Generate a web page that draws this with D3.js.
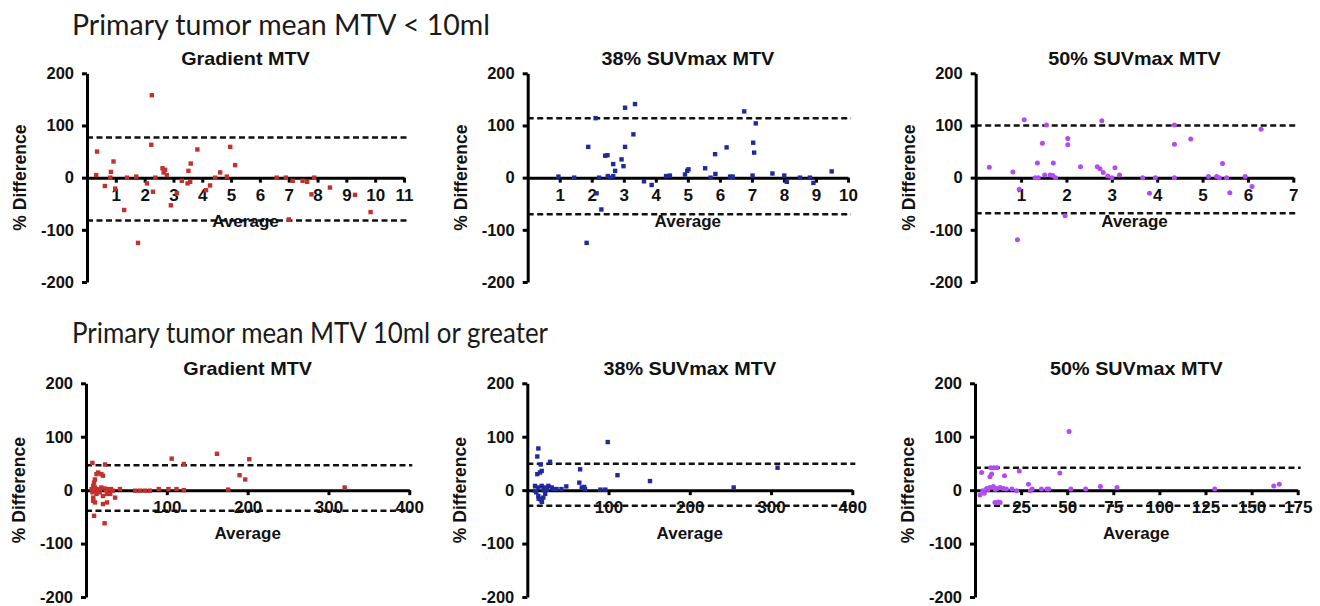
<!DOCTYPE html>
<html>
<head>
<meta charset="utf-8">
<script src="https://cdn.jsdelivr.net/npm/d3@7"></script>
<style>
  body { margin: 0; background: #fff; }
  svg text { font-family: "Liberation Sans", Arial, sans-serif; }
</style>
</head>
<body>
<svg></svg>
<script>
// row headings and panel titles
var rowTitles = ["Primary tumor mean MTV < 10ml", "Primary tumor mean MTV 10ml or greater"]
var panelTitles = ["Gradient MTV", "38% SUVmax MTV", "50% SUVmax MTV"]
var yTicks = [-200, -100, 0, 100, 200]

// x tick labels per panel
var xTicksGradSmall = [1, 2, 3, 4, 5, 6, 7, 8, 9, 10, 11]
var xTicks38Small = [1, 2, 3, 4, 5, 6, 7, 8, 9, 10]
var xTicks50Small = [1, 2, 3, 4, 5, 6, 7]
var xTicksGradLarge = [100, 200, 300, 400]
var xTicks38Large = [100, 200, 300, 400]
var xTicks50Large = [25, 50, 75, 100, 125, 150, 175]

// limits of agreement [upper, lower]
var loaGradSmall = [77, -82]
var loa38Small = [114, -70]
var loa50Small = [100, -68]
var loaGradLarge = [46.5, -38.5]
var loa38Large = [49.5, -29]
var loa50Large = [42, -29]

// [average, % difference]
var gradSmall = [[0.35,50],[0.32,5],[0.62,-16],[0.92,31],[0.83,11],[0.98,-21],[0.81,0],[1.29,-62],[1.39,0],[1.71,2],
  [1.77,-125],[2.08,-11],[2.25,158],[2.23,63],[2.29,-27],[2.37,0],[2.62,18],[2.71,15],[2.66,10],[2.77,5],[2.91,-53],
  [3.12,-30],[3.29,-6],[3.49,-11],[3.52,13],[3.6,27],[3.58,-8],[3.83,54],[4.13,-24],[4.27,-15],[4.45,0],[4.62,10],
  [4.85,2],[4.97,59],[5.14,24],[6.58,0],[6.9,0],[7.0,-80],[7.14,-6],[7.48,-6],[7.64,-8],[7.79,-32],[7.88,0],
  [8.43,-19],[9.3,-33],[9.84,-66]]
var suv38Small = [[0.96,2],[1.45,0],[1.89,59],[1.84,-125],[2.12,114],[2.15,-30],[2.23,0],[2.3,-61],[2.42,42],[2.49,43],
  [2.5,3],[2.59,0],[2.67,26],[2.67,3],[2.73,13],[2.93,35],[2.99,22],[3.04,59],[3.04,134],[3.3,83],[3.35,141],[3.63,-7],
  [3.87,-14],[4.32,3],[4.44,4],[4.91,6],[4.98,13],[5.02,16],[5.54,18],[5.71,0],[5.85,45],[5.86,7],[6.21,58],[6.32,2],
  [6.4,2],[6.76,127],[7.02,4],[7.04,67],[7.07,48],[7.12,104],[7.64,8],[8.01,4],[8.09,-8],[8.5,0],[8.81,0],[8.92,-10],
  [9.49,12]]
var suv50Small = [[0.3,20],[0.82,11],[0.96,-22],[0.92,-119],[1.07,111],[1.31,0],[1.36,28],[1.38,0],[1.47,66],[1.52,5],
  [1.56,101],[1.64,5],[1.7,4],[1.71,28],[1.76,0],[1.97,-73],[2.03,75],[2.03,63],[2.31,21],[2.68,21],[2.74,17],[2.78,109],
  [2.81,10],[2.91,3],[3.0,0],[3.07,19],[3.17,5],[3.68,0],[3.83,-30],[3.96,0],[4.38,101],[4.38,64],[4.38,0],[4.74,74],
  [5.13,2],[5.31,2],[5.37,0],[5.44,27],[5.53,0],[5.6,-29],[5.94,2],[6.09,-17],[6.29,93]]
var gradLarge = [[7.9,51],[23.6,48],[106,59],[121,49],[162,68],[202,58],[190,28],[197,20],[176,1],[320,5],
  [13,30],[15,33],[19,30],[21,27],[11,20],[10,14],[9,8],[11,5],[15,2],[19,5],[23,3],[27,2],[31,2],[8,-4],[9,-14],
  [13,-7],[17,-4],[21,-11],[26,-7],[30,-7],[36,-14],[9,-20],[11,-23],[21,-26],[26,-23],[10,-48],[23,-62],
  [42,2],[61,-1],[67,-1],[73,-1],[79,-1],[90,2],[102,2],[112,2],[121,0],[12,0],[14,-2],[17,1],[25,0],[33,-1],[7,2]]
var suv38Large = [[13.6,78],[12.3,63],[16.5,48],[28,53],[17.7,36],[12.3,30],[15.6,33],[65,39],[99,90],[111,28],
  [151,17],[254,5],[308,42],[9.5,8],[13.6,5],[17.7,8],[22,5],[26,8],[30,5],[36,2],[42,2],[48,7],[64,14],[67,5],
  [71,2],[90,1],[96,1],[11,-4],[13.6,-11],[16,-17],[17.7,-20],[19.7,-14],[22,-7],[9.5,-1],[32,2],[70,6],
  [18,-22],[14,-16],[20,0],[24,1]]
var suv50Large = [[51,110],[46,32],[29,11],[24,36],[16,27],[162,8],[165,11],[130,2],[77,5],[68,7],[60,2],[52,2],
  [36,2],[39,2],[31,2],[3.6,33],[8.5,42],[10.3,42],[9,30],[8.1,25],[4.2,-1],[6.3,3],[8.1,5],[10,7],[12,3],[13.6,5],
  [15.4,3],[17,2],[20,2],[22.6,-1],[30,-1],[40,2],[10.8,-23],[13.6,-23],[12.6,-22],[5,-6],[7,1],[11,1],[12,42],[2.7,-9]]

var width = 1320
var height = 606

var svg = d3.select('svg').attr('width', width).attr('height', height)

var colors = { red: '#c3312c', blue: '#1f2b9c', purple: '#b14cf2' }

// layout: row gives y range and heading position
var rows = [
  { top: 73.3, bottom: 282, titleY: 35, title: rowTitles[0], titleLen: 418 },
  { top: 383.3, bottom: 597, titleY: 343, title: rowTitles[1], titleLen: 476 }
]

var panels = [
  { row: 0, x0: 87, x1: 404, xmax: 11, ticks: xTicksGradSmall, loa: loaGradSmall, data: gradSmall, color: colors.red, shape: 'sq', title: panelTitles[0] },
  { row: 0, x0: 527.7, x1: 848, xmax: 10, ticks: xTicks38Small, loa: loa38Small, data: suv38Small, color: colors.blue, shape: 'sq', title: panelTitles[1] },
  { row: 0, x0: 975.7, x1: 1293.3, xmax: 7, ticks: xTicks50Small, loa: loa50Small, data: suv50Small, color: colors.purple, shape: 'ci', title: panelTitles[2] },
  { row: 1, x0: 86, x1: 409.3, xmax: 400, ticks: xTicksGradLarge, loa: loaGradLarge, data: gradLarge, color: colors.red, shape: 'sq', title: panelTitles[0] },
  { row: 1, x0: 527.3, x1: 852.3, xmax: 400, ticks: xTicks38Large, loa: loa38Large, data: suv38Large, color: colors.blue, shape: 'sq', title: panelTitles[1] },
  { row: 1, x0: 975, x1: 1297.7, xmax: 175, ticks: xTicks50Large, loa: loa50Large, data: suv50Large, color: colors.purple, shape: 'ci', title: panelTitles[2] }
]

var plain = function (d) { return String(d) }

rows.forEach(function (r) {
  svg.append('text')
    .attr('x', 72).attr('y', r.titleY)
    .attr('textLength', r.titleLen).attr('lengthAdjust', 'spacingAndGlyphs')
    .style('font-family', 'Lato, "Open Sans", sans-serif')
    .attr('font-size', 28).attr('fill', '#1a1a1a')
    .text(r.title)
})

panels.forEach(function (p) {
  var r = rows[p.row]
  var x = d3.scaleLinear().domain([0, p.xmax]).range([p.x0, p.x1])
  var y = d3.scaleLinear().domain([-200, 200]).range([r.bottom, r.top])
  var g = svg.append('g')

  // limits of agreement
  g.selectAll('line.loa')
    .data(p.loa)
    .enter().append('line')
      .attr('class', 'loa')
      .attr('x1', x(0)).attr('x2', x(p.xmax) + 3)
      .attr('y1', function (d) { return y(d) })
      .attr('y2', function (d) { return y(d) })
      .attr('stroke', '#111').attr('stroke-width', 2.5)
      .attr('stroke-dasharray', '6,3.5')

  // y axis
  var yAxis = g.append('g')
    .attr('transform', 'translate(' + x(0) + ',0)')
    .call(d3.axisLeft(y).tickValues(yTicks).tickFormat(plain).tickSize(5).tickSizeOuter(0).tickPadding(8))
  yAxis.select('.domain').attr('stroke-width', 3)
  yAxis.selectAll('.tick line').attr('stroke-width', 3)
  yAxis.selectAll('.tick text')
    .attr('font-size', 16.5).attr('font-weight', 'bold').attr('fill', '#111')

  // x axis at zero
  var xAxis = g.append('g')
    .attr('transform', 'translate(0,' + y(0) + ')')
    .call(d3.axisBottom(x).tickValues(p.ticks).tickFormat(plain).tickSize(5).tickSizeOuter(0).tickPadding(6))
  xAxis.select('.domain').attr('stroke-width', 3)
  xAxis.selectAll('.tick line').attr('stroke-width', 3)
  xAxis.selectAll('.tick text')
    .attr('font-size', 17).attr('font-weight', 'bold').attr('fill', '#111')

  // points
  if (p.shape === 'sq') {
    g.selectAll('rect.pt')
      .data(p.data)
      .enter().append('rect')
        .attr('class', 'pt')
        .attr('x', function (d) { return x(d[0]) - 2.2 })
        .attr('y', function (d) { return y(d[1]) - 2.2 })
        .attr('width', 4.4).attr('height', 4.4)
        .attr('fill', p.color)
  } else {
    g.selectAll('circle.pt')
      .data(p.data)
      .enter().append('circle')
        .attr('class', 'pt')
        .attr('cx', function (d) { return x(d[0]) })
        .attr('cy', function (d) { return y(d[1]) })
        .attr('r', 2.5)
        .attr('fill', p.color)
  }

  var cx = (p.x0 + p.x1) / 2

  // panel title
  g.append('text')
    .attr('transform', 'translate(' + cx + ',' + (r.top - 8) + ') scale(1.1,1)')
    .attr('text-anchor', 'middle')
    .attr('font-size', 18).attr('font-weight', 'bold').attr('fill', '#111')
    .text(p.title)

  // x label
  g.append('text')
    .attr('x', cx).attr('y', y(0) + 49)
    .attr('text-anchor', 'middle')
    .attr('font-size', 17).attr('font-weight', 'bold').attr('fill', '#111')
    .text('Average')

  // y label
  g.append('text')
    .attr('transform', 'translate(' + (x(0) - 61) + ',' + y(0) + ') rotate(-90)')
    .attr('text-anchor', 'middle')
    .attr('font-size', 17.5).attr('font-weight', 'bold').attr('fill', '#111')
    .text('% Difference')
})
</script>
</body>
</html>
